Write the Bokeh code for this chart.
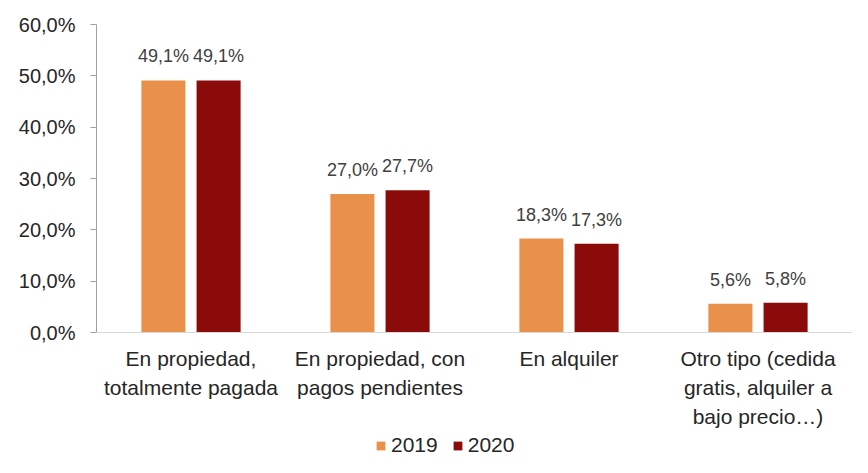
from bokeh.plotting import figure
from bokeh.models import (ColumnDataSource, FactorRange, Range1d, FixedTicker,
                          Legend, LegendItem, Span)
from bokeh.transform import dodge
from bokeh.core.properties import value
from bokeh.embed import file_html
from bokeh.resources import INLINE

categories = ["En propiedad,\ntotalmente pagada",
              "En propiedad, con\npagos pendientes",
              "En alquiler",
              "Otro tipo (cedida\ngratis, alquiler a\nbajo precio…)"]
v2019 = [49.1, 27.0, 18.3, 5.6]
v2020 = [49.1, 27.7, 17.3, 5.8]
series = ["2019", "2020"]
colors = ["#E9914B", "#8B0B0B"]
yticks = [0, 10, 20, 30, 40, 50, 60]
ytick_labels = ["0,0%", "10,0%", "20,0%", "30,0%", "40,0%", "50,0%", "60,0%"]

def fmt(v):
    return f"{v:.1f}".replace(".", ",") + "%"

src = ColumnDataSource(dict(
    cat=categories,
    v2019=v2019, v2020=v2020,
    l2019=[fmt(v) for v in v2019], l2020=[fmt(v) for v in v2020],
))
base = ColumnDataSource(dict(cat=categories, y=[0] * len(categories)))

FONT = "Liberation Sans"
# frame spans down to the figure bottom; value 0 sits 125px above the bottom
p = figure(x_range=FactorRange(*categories), y_range=Range1d(-24.35, 60),
           width=852, height=457, output_backend="svg", toolbar_location=None,
           min_border_left=96, min_border_right=0, min_border_top=24,
           min_border_bottom=0)
p.outline_line_color = None
p.xgrid.grid_line_color = None
p.ygrid.grid_line_color = None
p.x_range.range_padding = 0
p.x_range.factor_padding = 0
p.xaxis.visible = False

p.add_layout(Span(location=0, dimension="width", line_color="#D9D9D9", line_width=1))

off = 0.146
w = 0.233
r1 = p.vbar(x=dodge("cat", -off, range=p.x_range), top="v2019", width=w, source=src,
            fill_color=colors[0], line_color=None)
r2 = p.vbar(x=dodge("cat", off, range=p.x_range), top="v2020", width=w, source=src,
            fill_color=colors[1], line_color=None)

for key, o in (("2019", -off), ("2020", off)):
    p.text(x=dodge("cat", o, range=p.x_range), y="v" + key, text="l" + key, source=src,
           text_align="center", text_baseline="alphabetic", y_offset=-24,
           text_font=value(FONT), text_font_size="18px", text_color="#404040")

# category labels under the baseline
p.text(x="cat", y="y", text="cat", source=base, text_align="center",
       text_baseline="top", y_offset=14, text_line_height=1.27,
       text_font=value(FONT), text_font_size="21px", text_color="#262626")

p.yaxis.ticker = FixedTicker(ticks=yticks)
p.yaxis.bounds = (0, 60)
p.yaxis.major_label_overrides = {t: l for t, l in zip(yticks, ytick_labels)}
p.yaxis.major_label_text_font = FONT
p.yaxis.major_label_text_font_size = "20px"
p.yaxis.major_label_text_color = "#262626"
p.yaxis.axis_line_color = "#A0A0A0"
p.yaxis.major_tick_line_color = "#A0A0A0"
p.yaxis.major_tick_in = 0
p.yaxis.major_tick_out = 6
p.yaxis.minor_tick_line_color = None
p.yaxis.major_label_standoff = 15

legend = Legend(items=[LegendItem(label=series[0], renderers=[r1]),
                       LegendItem(label=series[1], renderers=[r2])],
                orientation="horizontal", location=(279, 0),
                glyph_width=11, glyph_height=11, label_text_font=FONT,
                label_text_font_size="21px", label_text_color="#262626",
                border_line_color=None, background_fill_alpha=0,
                spacing=14, label_standoff=5, padding=0, margin=0,
                label_height=21)
p.add_layout(legend, "center")

open("out.html", "w").write(file_html(p, INLINE))
